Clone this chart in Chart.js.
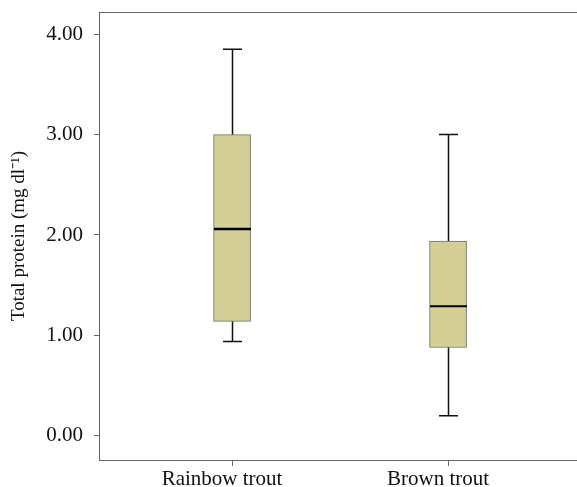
<!DOCTYPE html>
<html>
<head>
<meta charset="utf-8">
<script src="https://cdn.jsdelivr.net/npm/chart.js@4/dist/chart.umd.min.js"></script>
<style>
  html, body { margin: 0; padding: 0; background: #fff; }
  #wrap { width: 577px; height: 487px; }
</style>
</head>
<body>
<div id="wrap"><canvas id="myChart" width="577" height="487"></canvas></div>
<script>
'use strict';

const categories = ['Rainbow trout', 'Brown trout'];
const mins = [0.94, 0.2];
const q1s = [1.14, 0.88];
const medians = [2.06, 1.29];
const q3s = [3.0, 1.94];
const maxs = [3.85, 3.0];
const yTicks = [0, 1, 2, 3, 4];

const BOX_W = 37;
const CAP_W = 19;

const boxExtras = {
  id: 'boxExtras',
  afterDatasetsDraw(chart) {
    const { ctx, scales: { x, y } } = chart;
    ctx.save();
    categories.forEach((c, i) => {
      const cx = Math.round(x.getPixelForValue(i)) + 0.5;
      ctx.strokeStyle = '#111';
      ctx.lineWidth = 1.5;
      ctx.beginPath();
      // lower whisker
      ctx.moveTo(cx, y.getPixelForValue(q1s[i]));
      ctx.lineTo(cx, y.getPixelForValue(mins[i]));
      ctx.moveTo(cx - CAP_W / 2, y.getPixelForValue(mins[i]));
      ctx.lineTo(cx + CAP_W / 2, y.getPixelForValue(mins[i]));
      // upper whisker
      ctx.moveTo(cx, y.getPixelForValue(q3s[i]));
      ctx.lineTo(cx, y.getPixelForValue(maxs[i]));
      ctx.moveTo(cx - CAP_W / 2, y.getPixelForValue(maxs[i]));
      ctx.lineTo(cx + CAP_W / 2, y.getPixelForValue(maxs[i]));
      ctx.stroke();
      // median
      ctx.lineWidth = i === 0 ? 2.5 : 2;
      ctx.strokeStyle = '#000';
      ctx.beginPath();
      ctx.moveTo(cx - BOX_W / 2, y.getPixelForValue(medians[i]));
      ctx.lineTo(cx + BOX_W / 2, y.getPixelForValue(medians[i]));
      ctx.stroke();
    });
    // top frame line (no right edge in the original)
    const a = chart.chartArea;
    ctx.strokeStyle = '#666';
    ctx.lineWidth = 1;
    ctx.beginPath();
    ctx.moveTo(a.left, a.top + 0.5);
    ctx.lineTo(chart.width, a.top + 0.5);
    ctx.stroke();
    ctx.restore();
  }
};

const ctx = document.getElementById('myChart');

new Chart(ctx, {
  type: 'bar',
  data: {
    datasets: [
      {
        data: categories.map((c, i) => ({ x: i, y: [q1s[i], q3s[i]] })),
        backgroundColor: '#d3cf97',
        borderColor: '#6e6e66',
        borderWidth: 1,
        borderSkipped: false,
        barThickness: BOX_W,
      },
    ],
  },
  options: {
    responsive: false,
    animation: false,
    layout: { padding: { top: 12, right: 0, left: 0, bottom: 0 } },
    plugins: {
      legend: { display: false },
      tooltip: { enabled: false },
    },
    scales: {
      x: {
        type: 'linear',
        offset: false,
        min: -0.616,
        max: 1.597,
        afterBuildTicks: (scale) => {
          scale.ticks = categories.map((c, i) => ({ value: i }));
        },
        afterFit: (scale) => {
          scale.height = 27;
          scale.paddingLeft = 0;
          scale.paddingRight = 0;
        },
        ticks: {
          callback: (v) => categories[v],
          color: '#111',
          font: { family: 'Liberation Serif', size: 21 },
          padding: 1,
          labelOffset: -10,
          maxRotation: 0,
        },
        grid: { drawOnChartArea: false, offset: false, tickLength: 6, color: '#666' },
        border: { color: '#666' },
      },
      y: {
        min: -0.24,
        max: 4.22,
        afterBuildTicks: (scale) => {
          scale.ticks = yTicks.map((v) => ({ value: v }));
        },
        afterFit: (scale) => {
          scale.width = 99;
          scale.paddingTop = 0;
          scale.paddingBottom = 0;
        },
        ticks: {
          callback: (v) => v.toFixed(2),
          color: '#111',
          font: { family: 'Liberation Serif', size: 21 },
          padding: 11,
        },
        grid: { drawOnChartArea: false, tickLength: 5, color: '#666' },
        border: { color: '#666' },
        title: {
          display: true,
          text: 'Total protein (mg dl⁻¹)',
          color: '#111',
          font: { family: 'Liberation Serif', size: 19 },
          padding: { top: 8, bottom: 0 },
        },
      },
    },
  },
  plugins: [boxExtras],
});
</script>
</body>
</html>
